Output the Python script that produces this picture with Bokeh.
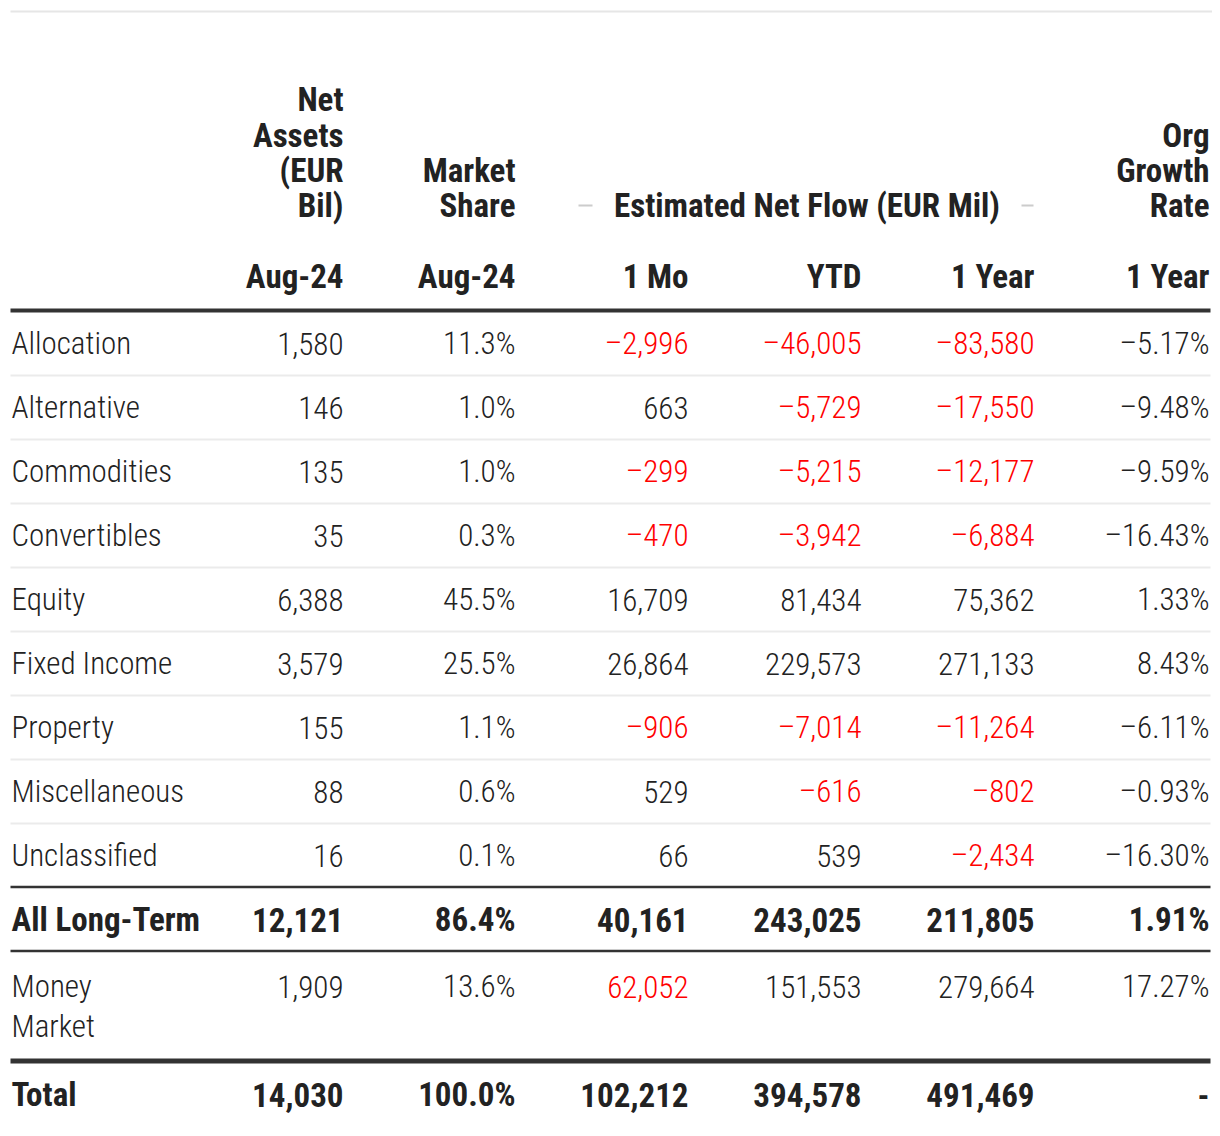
from bokeh.plotting import figure
from bokeh.models import ColumnDataSource, Range1d
from bokeh.core.properties import value
from bokeh.embed import file_html
from bokeh.resources import INLINE

# ---------------- data ----------------
categories = ["Allocation", "Alternative", "Commodities", "Convertibles", "Equity",
              "Fixed Income", "Property", "Miscellaneous", "Unclassified"]
net_assets = [1580, 146, 135, 35, 6388, 3579, 155, 88, 16]
market_share = [11.3, 1.0, 1.0, 0.3, 45.5, 25.5, 1.1, 0.6, 0.1]
flow_1mo = [-2996, 663, -299, -470, 16709, 26864, -906, 529, 66]
flow_ytd = [-46005, -5729, -5215, -3942, 81434, 229573, -7014, -616, 539]
flow_1yr = [-83580, -17550, -12177, -6884, 75362, 271133, -11264, -802, -2434]
org_growth = [-5.17, -9.48, -9.59, -16.43, 1.33, 8.43, -6.11, -0.93, -16.30]

longterm_label = "All Long-Term"
longterm = [12121, 86.4, 40161, 243025, 211805, 1.91]
money_label = ["Money", "Market"]
money = [1909, 13.6, 62052, 151553, 279664, 17.27]
money_red = [False, False, True, False, False, False]   # flagged red in source
total_label = "Total"
total = [14030, 100.0, 102212, 394578, 491469, None]

col_headers = [["Net", "Assets", "(EUR", "Bil)"], ["Market", "Share"], [], [], [], ["Org", "Growth", "Rate"]]
sub_headers = ["Aug-24", "Aug-24", "1 Mo", "YTD", "1 Year", "1 Year"]
group_header = "Estimated Net Flow (EUR Mil)"

# ---------------- style ----------------
FONT_B = "Roboto Condensed, Liberation Sans Narrow, sans-serif"
FONT_N = "Roboto Condensed Light, Roboto Condensed, Liberation Sans Narrow, sans-serif"
FS_B = "33px"
FS_N = "31px"
DARK = "#222222"
RED = "#ff0000"
W, H = 1212, 1128
DY = -11   # baseline correction

col_right = [343, 515, 688, 861, 1034, 1209]
label_x = 11
MINUS = "\u2013"


def fmt_int(v):
    s = f"{abs(v):,}"
    return (MINUS + s) if v < 0 else s


def fmt_pct(v, d):
    if v is None:
        return "-"
    s = f"{abs(v):.{d}f}%"
    return (MINUS + s) if v < 0 else s


def fmt_row(vals):
    a, ms, m1, ytd, y1, og = vals
    return [fmt_int(a), fmt_pct(ms, 1), fmt_int(m1), fmt_int(ytd), fmt_int(y1), fmt_pct(og, 2)]


p = figure(width=W, height=H, output_backend="svg", toolbar_location=None,
           x_range=Range1d(0, W), y_range=Range1d(H, 0), min_border=0,
           outline_line_color=None)
p.axis.visible = False
p.grid.visible = False
p.background_fill_color = "white"
p.border_fill_color = "white"

normal = dict(x=[], y=[], text=[], color=[], align=[])
bold = dict(x=[], y=[], text=[], color=[], align=[])


def add(d, x, y, t, c=DARK, a="right"):
    d["x"].append(x); d["y"].append(y + DY); d["text"].append(t); d["color"].append(c); d["align"].append(a)


# headers
head_base = [110, 146, 181, 216]
for ci, lines in enumerate(col_headers):
    n = len(lines)
    for li, t in enumerate(lines):
        add(bold, col_right[ci], head_base[4 - n + li], t)
for ci, t in enumerate(sub_headers):
    add(bold, col_right[ci], 287, t)
add(bold, 806.5, 216, group_header, a="center")

# body rows
for k, cat in enumerate(categories):
    yb = 354 + 64 * k
    add(normal, label_x, yb, cat, a="left")
    vals = [net_assets[k], market_share[k], flow_1mo[k], flow_ytd[k], flow_1yr[k], org_growth[k]]
    texts = fmt_row(vals)
    for ci, t in enumerate(texts):
        red = ci in (2, 3, 4) and vals[ci] < 0
        add(normal, col_right[ci], yb, t, RED if red else DARK)

# all long-term
add(bold, label_x, 930, longterm_label, a="left")
for ci, t in enumerate(fmt_row(longterm)):
    add(bold, col_right[ci], 930, t)

# money market
add(normal, label_x, 997, money_label[0], a="left")
add(normal, label_x, 1037, money_label[1], a="left")
for ci, t in enumerate(fmt_row(money)):
    add(normal, col_right[ci], 997, t, RED if money_red[ci] else DARK)

# total
add(bold, label_x, 1105, total_label, a="left")
for ci, t in enumerate(fmt_row(total)):
    add(bold, col_right[ci], 1105, t)

for d, style, font, fs in ((normal, "normal", FONT_N, FS_N), (bold, "bold", FONT_B, FS_B)):
    src = ColumnDataSource(d)
    p.text(x="x", y="y", text="text", source=src, text_color="color", text_align="align",
           text_baseline="alphabetic", text_font=value(font), text_font_size=value(fs),
           text_font_style=style)

# rules
x0, x1 = 10, 1210
p.segment(x0=[10], x1=[W], y0=[11], y1=[11], line_color="#e6e6e6", line_width=2)
p.segment(x0=[x0], x1=[x1], y0=[310], y1=[310], line_color="#333333", line_width=4)
sep_y = [375 + 64 * k for k in range(len(categories) - 1)]
p.segment(x0=[x0] * len(sep_y), x1=[x1] * len(sep_y), y0=sep_y, y1=sep_y,
          line_color="#ebebeb", line_width=2)
p.segment(x0=[x0, x0], x1=[x1, x1], y0=[886.5, 950.5], y1=[886.5, 950.5],
          line_color="#333333", line_width=2.5)
p.segment(x0=[x0], x1=[x1], y0=[1060.5], y1=[1060.5], line_color="#333333", line_width=5)
# group header dashes
p.segment(x0=[578, 1021], x1=[592, 1033], y0=[205, 205], y1=[205, 205],
          line_color="#cccccc", line_width=2)

open("out.html", "w").write(file_html(p, INLINE))
